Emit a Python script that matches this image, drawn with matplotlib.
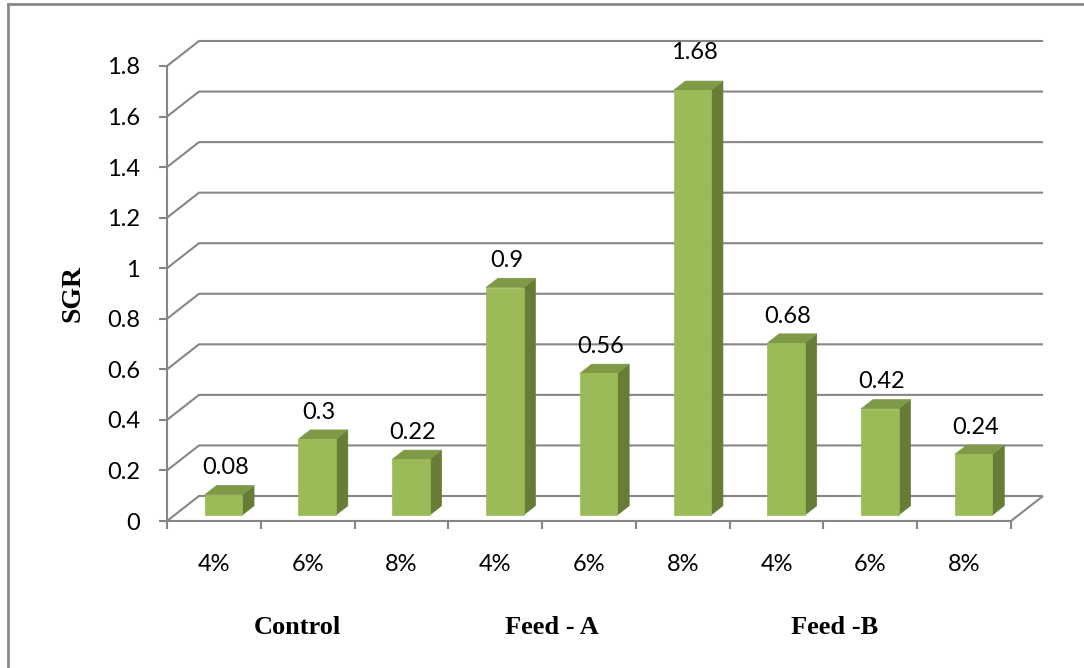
import matplotlib
matplotlib.use("Agg")
import matplotlib.pyplot as plt
from matplotlib.patches import Polygon
from matplotlib.lines import Line2D

# Specific growth rate per feeding level
groups = ["Control", "Feed - A", "Feed -B"]
levels = ["4%", "6%", "8%"]
sgr = [0.08, 0.30, 0.22, 0.90, 0.56, 1.68, 0.68, 0.42, 0.24]
y_ticks = [0, 0.2, 0.4, 0.6, 0.8, 1.0, 1.2, 1.4, 1.6, 1.8]
y_tick_labels = ["0", "0.2", "0.4", "0.6", "0.8", "1", "1.2", "1.4", "1.6", "1.8"]

W, H, DPI = 1084, 668, 100
GRID = "#868686"
FRONT, TOP, SIDE = "#9BBB59", "#7E9A47", "#677D36"
NUM_FONT = "Lato"
SERIF = "Liberation Serif"

fig = plt.figure(figsize=(W / DPI, H / DPI), dpi=DPI)
fig.patch.set_facecolor("white")
ax = fig.add_axes([167 / W, (H - 521) / H, 844 / W, 455 / H])
n = len(sgr)
ax.set_xlim(0, n)
ax.set_ylim(0, y_ticks[-1])
ax.set_facecolor("none")

# pseudo-3D depth: full depth moves 32 px right and 25 px up
DX = 32 / (844 / n)
DY = 25 / (455 / y_ticks[-1])


def proj(x, y, d):
    return (x + d * DX, y + d * DY)


grid_kw = dict(color=GRID, lw=1.5, clip_on=False, zorder=1, solid_capstyle="butt")
for t in y_ticks:
    pts = [proj(0, t, 0), proj(0, t, 1), proj(n, t, 1)]
    ax.plot([p[0] for p in pts], [p[1] for p in pts], **grid_kw)
# right edge of the floor
pts = [proj(n, 0, 0), proj(n, 0, 1)]
ax.plot([p[0] for p in pts], [p[1] for p in pts], **grid_kw)

# extra lift (points) for the label of the tallest column
label_lift = {5: 8}

# bars as boxes: front face, right side and top
d1, d2 = 0.24, 0.61
for i, v in enumerate(sgr):
    x0, x1 = i + 0.32, i + 0.72
    front = [proj(x0, 0, d1), proj(x1, 0, d1), proj(x1, v, d1), proj(x0, v, d1)]
    side = [proj(x1, 0, d1), proj(x1, 0, d2), proj(x1, v, d2), proj(x1, v, d1)]
    top = [proj(x0, v, d1), proj(x1, v, d1), proj(x1, v, d2), proj(x0, v, d2)]
    for poly, col in ((side, SIDE), (top, TOP), (front, FRONT)):
        ax.add_patch(Polygon(poly, closed=True, facecolor=col, edgecolor=col,
                             lw=0.5, clip_on=False, zorder=3))
    ax.annotate(f"{v:g}", xy=proj((x0 + x1) / 2 + 0.02, v, d1),
                xytext=(0, 19.5 + label_lift.get(i, 0)),
                textcoords="offset points", ha="center", va="center",
                fontsize=17, family=NUM_FONT, color="black", zorder=4)

# axes lines and ticks
for s in ("top", "right"):
    ax.spines[s].set_visible(False)
for s in ("left", "bottom"):
    ax.spines[s].set_color(GRID)
    ax.spines[s].set_linewidth(1.5)
    ax.spines[s].set_zorder(2)

ax.set_yticks(y_ticks)
ax.set_yticklabels(y_tick_labels, family=NUM_FONT, fontsize=17)
ax.tick_params(axis="y", direction="out", length=5.8, width=1.5, color=GRID,
               pad=13.5, labelcolor="black")

ax.set_xticks(range(n + 1))
ax.set_xticklabels([])
ax.tick_params(axis="x", which="major", direction="out", length=5.5, width=1.5,
               color=GRID)
ax.set_xticks([i + 0.5 for i in range(n)], minor=True)
ax.set_xticklabels(levels * len(groups), minor=True, family=NUM_FONT, fontsize=17)
ax.tick_params(axis="x", which="minor", length=0, pad=31.5)
for lab in ax.get_xticklabels(minor=True):
    lab.set_va("center")

# group names and axis title
group_px = [297, 552, 835]
for name, px in zip(groups, group_px):
    fig.text(px / W, 1 - 628 / H, name, ha="center", va="center",
             family=SERIF, fontweight="bold", fontsize=19)
fig.text(73 / W, 1 - 293 / H, "SGR", rotation=90, ha="center", va="center",
         family=SERIF, fontweight="bold", fontsize=20)

# outer frame (top and left edges)
fig.add_artist(Line2D([8 / W, 1], [1 - 4 / H, 1 - 4 / H], transform=fig.transFigure,
                      color="#8A8A8A", lw=2))
fig.add_artist(Line2D([8 / W, 8 / W], [0, 1 - 4 / H], transform=fig.transFigure,
                      color="#8A8A8A", lw=2))

fig.savefig("out.png", dpi=DPI, facecolor="white")
